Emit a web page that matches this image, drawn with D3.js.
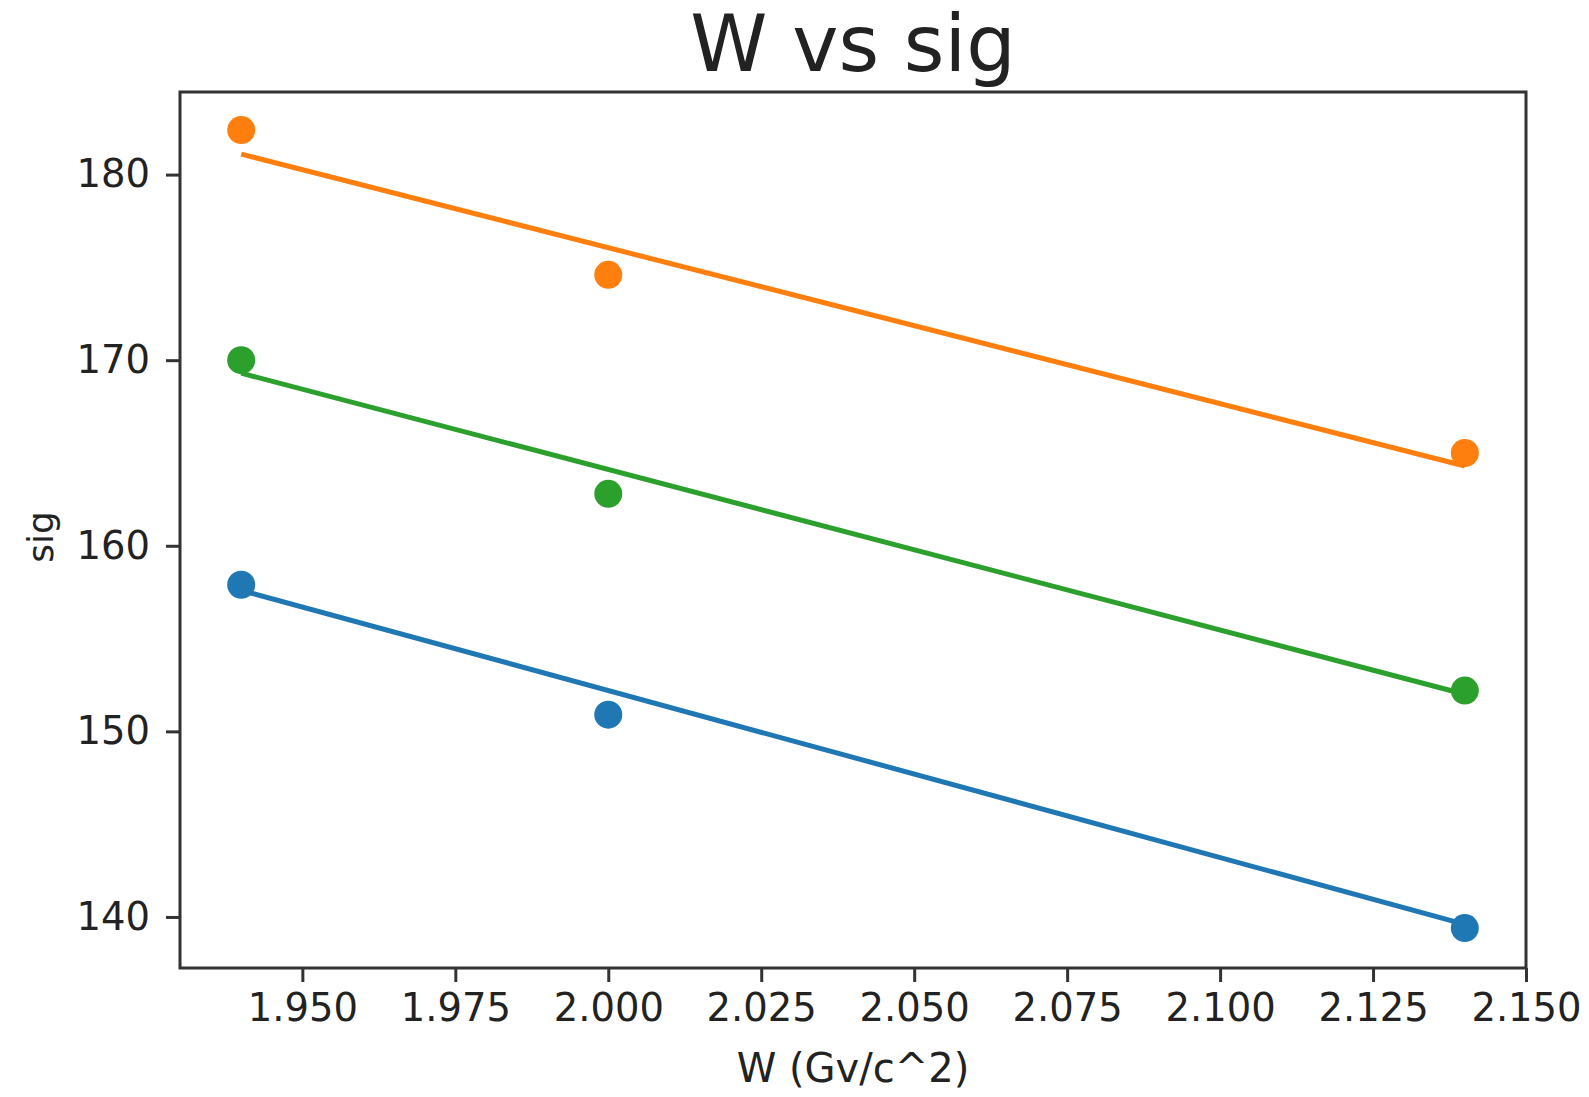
<!DOCTYPE html>
<html>
<head>
<meta charset="utf-8">
<script src="https://cdn.jsdelivr.net/npm/d3@7"></script>
<style>
	body { margin: 0; background: #fff; }
	text { font-family: "DejaVu Sans", sans-serif; fill: #222; }
</style>
</head>
<body>
<div id="chart"></div>
<script>
	'use strict';

	// data
	var wValues = [1.94, 2.00, 2.14];
	var sigBlue = [157.9, 150.9, 139.4];
	var sigOrange = [182.4, 174.6, 165.0];
	var sigGreen = [170.0, 162.8, 152.2];
	var fitW = [1.94, 2.14];
	var fitBlue = [157.6, 139.6];
	var fitOrange = [181.1, 164.3];
	var fitGreen = [169.3, 152.0];
	var xTicks = [1.950, 1.975, 2.000, 2.025, 2.050, 2.075, 2.100, 2.125, 2.150];
	var yTicks = [140, 150, 160, 170, 180];

	var series = [
		{ pts: sigBlue, fit: fitBlue, color: '#1f77b4' },
		{ pts: sigOrange, fit: fitOrange, color: '#ff7f0e' },
		{ pts: sigGreen, fit: fitGreen, color: '#2ca02c' }
	];

	var width = 1589, height = 1097;
	var margin = { top: 92, right: 63, bottom: 129, left: 180 };

	var svg = d3.select('#chart').append('svg')
		.attr('width', width)
		.attr('height', height);

	var x = d3.scaleLinear().domain([1.930, 2.150]).range([margin.left, width - margin.right]);
	var y = d3.scaleLinear().domain([137.25, 184.45]).range([height - margin.bottom, margin.top]);

	var line = d3.line()
		.x(function (d) { return x(d[0]); })
		.y(function (d) { return y(d[1]); });

	// fitted lines first, points on top
	series.forEach(function (s) {
		svg.append('path')
			.datum(fitW.map(function (w, i) { return [w, s.fit[i]]; }))
			.attr('d', line)
			.attr('fill', 'none')
			.attr('stroke', s.color)
			.attr('stroke-width', 5);
	});
	series.forEach(function (s) {
		svg.selectAll(null)
			.data(wValues.map(function (w, i) { return [w, s.pts[i]]; }))
			.enter().append('circle')
			.attr('cx', function (d) { return x(d[0]); })
			.attr('cy', function (d) { return y(d[1]); })
			.attr('r', 14)
			.attr('fill', s.color);
	});

	// frame
	svg.append('rect')
		.attr('x', margin.left)
		.attr('y', margin.top)
		.attr('width', width - margin.left - margin.right)
		.attr('height', height - margin.top - margin.bottom)
		.attr('fill', 'none')
		.attr('stroke', '#333')
		.attr('stroke-width', 3);

	var xAxis = svg.append('g')
		.attr('transform', 'translate(0,' + (height - margin.bottom) + ')')
		.call(d3.axisBottom(x).tickValues(xTicks).tickFormat(d3.format('.3f')).tickSize(14).tickPadding(12));
	var yAxis = svg.append('g')
		.attr('transform', 'translate(' + margin.left + ',0)')
		.call(d3.axisLeft(y).tickValues(yTicks).tickFormat(d3.format('d')).tickSize(14).tickPadding(16));

	[xAxis, yAxis].forEach(function (g) {
		g.select('.domain').remove();
		g.selectAll('.tick line').attr('stroke', '#333').attr('stroke-width', 3);
		g.selectAll('.tick text').attr('font-size', 38.5).attr('fill', '#222');
	});

	svg.append('text')
		.attr('x', (margin.left + width - margin.right) / 2)
		.attr('y', 71)
		.attr('text-anchor', 'middle')
		.attr('font-size', 78)
		.text('W vs sig');

	svg.append('text')
		.attr('x', (margin.left + width - margin.right) / 2)
		.attr('y', 1082)
		.attr('text-anchor', 'middle')
		.attr('font-size', 40)
		.text('W (Gv/c^2)');

	svg.append('text')
		.attr('transform', 'translate(53,537) rotate(-90)')
		.attr('text-anchor', 'middle')
		.attr('font-size', 36)
		.text('sig');
</script>
</body>
</html>
